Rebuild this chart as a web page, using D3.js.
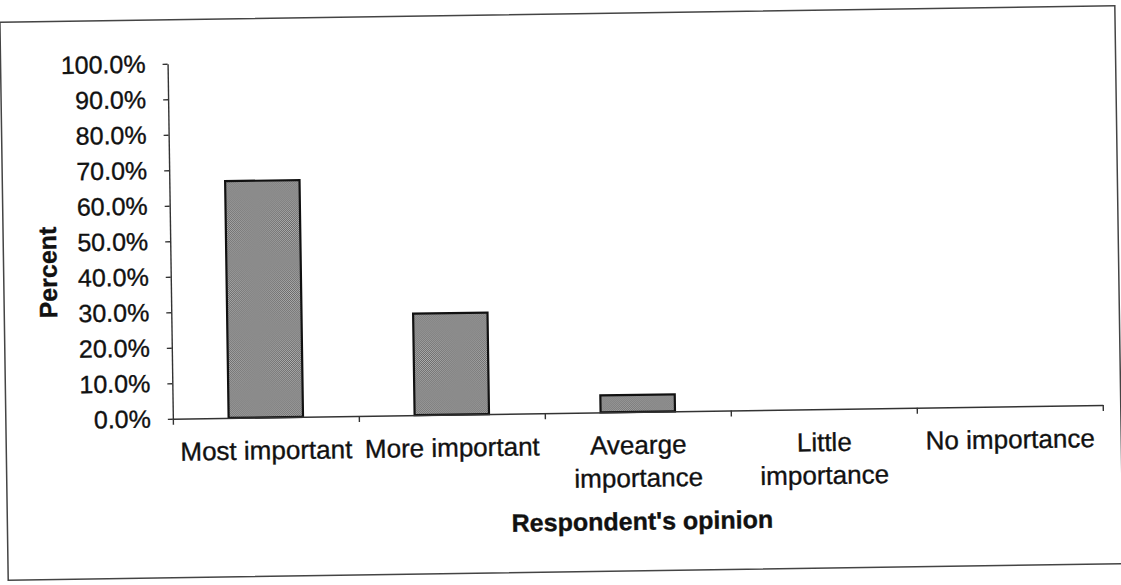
<!DOCTYPE html>
<html>
<head>
<meta charset="utf-8">
<style>
  body { margin: 0; background: #fff; }
  svg { display: block; font-family: "Liberation Sans", Arial, sans-serif; }
  text { fill: #111; stroke: #111; stroke-width: 0.35px; }
  .axis path, .axis line { stroke: #333; stroke-width: 1.4px; }
</style>
</head>
<body>
<svg width="1121" height="585"></svg>

<script src="https://d3js.org/d3.v7.min.js"></script>
<script>
  // chart values
  var categories = ["Most important", "More important", "Avearge importance", "Little importance", "No importance"];
  var percents = [0.667, 0.286, 0.048, 0, 0];
  var yTicks = [0, 0.1, 0.2, 0.3, 0.4, 0.5, 0.6, 0.7, 0.8, 0.9, 1.0];
  var xTitle = "Respondent's opinion";
  var yTitle = "Percent";

  var svg = d3.select("svg");

  // the scanned page sits slightly tilted
  var g = svg.append("g").attr("transform", "rotate(-0.85, 560, 292)");

  var defs = svg.append("defs");
  var pat = defs.append("pattern")
      .attr("id", "dots")
      .attr("width", 2).attr("height", 2)
      .attr("patternUnits", "userSpaceOnUse");
  pat.append("rect").attr("width", 2).attr("height", 2).attr("fill", "#b0b0b0");
  pat.append("rect").attr("width", 1).attr("height", 1).attr("fill", "#666");
  pat.append("rect").attr("x", 1).attr("y", 1).attr("width", 1).attr("height", 1).attr("fill", "#666");

  // outer frame
  g.append("rect")
      .attr("x", 4).attr("y", 14)
      .attr("width", 1115).attr("height", 558)
      .attr("fill", "none")
      .attr("stroke", "#444")
      .attr("stroke-width", 1.5);

  var x = d3.scaleBand()
      .domain(categories)
      .range([171, 1101])
      .paddingInner(0.6)
      .paddingOuter(0.3);

  var y = d3.scaleLinear()
      .domain([0, 1])
      .range([413, 58]);

  // boundary ticks between categories (Excel style)
  var xEdges = d3.scaleLinear().domain([0, categories.length]).range(x.range());

  // bars
  g.append("g")
    .selectAll("rect")
    .data(percents)
    .enter().append("rect")
      .attr("x", function(d, i) { return x(categories[i]); })
      .attr("y", function(d) { return y(d); })
      .attr("width", x.bandwidth())
      .attr("height", function(d) { return y(0) - y(d); })
      .attr("fill", "url(#dots)")
      .attr("stroke", function(d) { return d > 0 ? "#111" : "none"; })
      .attr("stroke-width", 2.2);

  // y axis
  var yAxis = g.append("g")
      .attr("class", "axis")
      .attr("transform", "translate(" + x.range()[0] + ",0)")
      .call(d3.axisLeft(y)
        .tickValues(yTicks)
        .tickFormat(d3.format(".1%"))
        .tickSize(5)
        .tickSizeOuter(0)
        .tickPadding(17));
  yAxis.attr("font-size", 25).attr("font-family", null);

  // x axis
  g.append("g")
      .attr("class", "axis")
      .attr("transform", "translate(0," + y(0) + ")")
      .call(d3.axisBottom(xEdges)
        .ticks(categories.length)
        .tickFormat("")
        .tickSize(6)
        .tickSizeOuter(0));

  // category labels, wrapped when wider than a category slot
  var labels = g.append("g")
      .attr("font-size", 26)
      .attr("text-anchor", "middle")
    .selectAll("text")
    .data(categories)
    .enter().append("text")
      .attr("x", function(d) { return x(d) + x.bandwidth() / 2; })
      .attr("y", y(0) + 42);

  labels.each(function(d) {
    var t = d3.select(this).text(d);
    if (this.getComputedTextLength() <= x.step() - 10) return;
    t.text(null);
    d.split(" ").forEach(function(w, k) {
      t.append("tspan")
        .attr("x", x(d) + x.bandwidth() / 2)
        .attr("dy", k === 0 ? 0 : 33)
        .text(w);
    });
  });

  // axis titles
  g.append("text")
      .attr("x", (x.range()[0] + x.range()[1]) / 2 + 3)
      .attr("y", 531)
      .attr("text-anchor", "middle")
      .attr("font-size", 25)
      .attr("font-weight", "bold")
      .text(xTitle);

  g.append("text")
      .attr("transform", "translate(57," + 265 + ") rotate(-90)")
      .attr("text-anchor", "middle")
      .attr("font-size", 25)
      .attr("font-weight", "bold")
      .text(yTitle);
</script>
</body>
</html>
